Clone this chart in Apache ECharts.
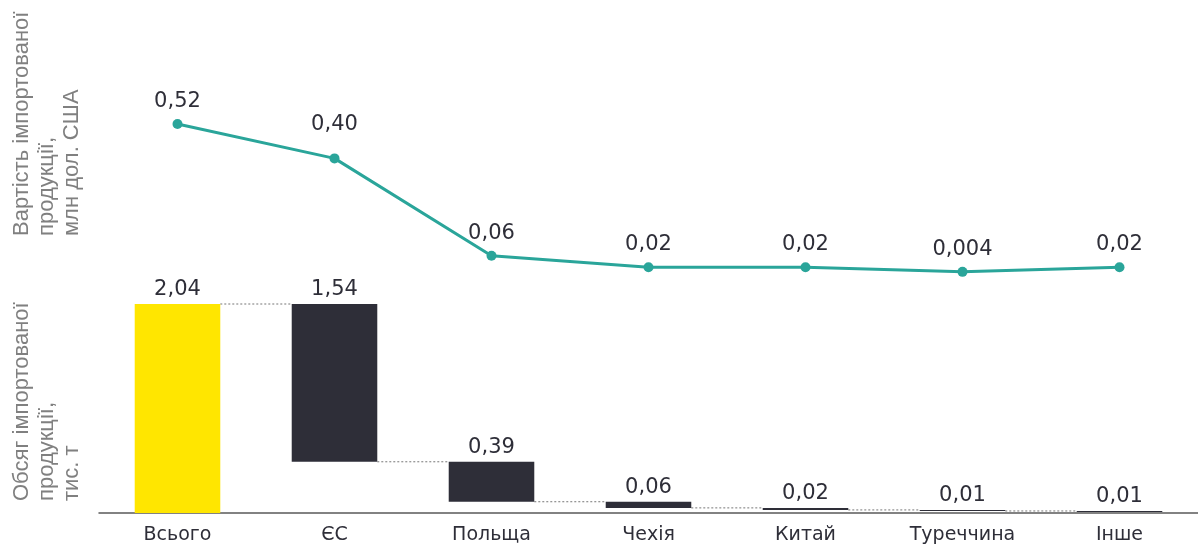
<!DOCTYPE html>
<html>
<head>
<meta charset="utf-8">
<script src="https://cdn.jsdelivr.net/npm/echarts@6/dist/echarts.min.js"></script>
<style>
  html, body { margin: 0; padding: 0; background: #fff; }
  #main { width: 1198px; height: 546px; }
</style>
</head>
<body>
<div id="main"></div>
<script>
  // категорії
  var categories = ['Всього', 'ЄС', 'Польща', 'Чехія', 'Китай', 'Туреччина', 'Інше'];
  // обсяг, тис. т
  var volumes = [2.04, 1.54, 0.39, 0.06, 0.02, 0.01, 0.01];
  // вартість, млн дол. США
  var values = [0.52, 0.40, 0.06, 0.02, 0.02, 0.004, 0.02];

  var topTitle = ['Вартість імпортованої', 'продукції,', 'млн дол. США'];
  var bottomTitle = ['Обсяг імпортованої', 'продукції,', 'тис. т'];

  // невидима основа для водоспаду
  var bases = [0];
  var rest = volumes[0];
  for (var i = 1; i < volumes.length; i++) {
    rest = rest - volumes[i];
    bases.push(Math.max(0, +rest.toFixed(3)));
  }
  var tops = volumes.map(function (v, i) { return i === 0 ? v : bases[i] + v; });

  function fmt(v) {
    return (v < 0.01 ? v.toFixed(3) : v.toFixed(2)).replace('.', ',');
  }

  var gridLeft = 99, gridW = 1106;
  var font = 'DejaVu Sans';

  var option = {
    animation: false,
    grid: [
      { left: gridLeft, width: gridW, top: 124, height: 149 },
      { left: gridLeft, width: gridW, top: 304, height: 209 }
    ],
    xAxis: [
      { type: 'category', gridIndex: 0, data: categories, show: false },
      {
        type: 'category', gridIndex: 1, data: categories,
        axisLine: { lineStyle: { color: '#5a5a5a', width: 1.5 } },
        axisTick: { show: false },
        axisLabel: { color: '#2e2e38', fontSize: 19, fontFamily: font, margin: 13 }
      }
    ],
    yAxis: [
      { type: 'value', gridIndex: 0, min: 0, max: 0.52, show: false },
      { type: 'value', gridIndex: 1, min: 0, max: 2.04, show: false }
    ],
    graphic: [
      {
        type: 'text', x: 9, y: 236, rotation: Math.PI / 2,
        style: { text: topTitle.join('\n'), fill: '#808080', font: '22px "Liberation Sans"',
                 lineHeight: 25, align: 'left', verticalAlign: 'top' }
      },
      {
        type: 'text', x: 9, y: 501, rotation: Math.PI / 2,
        style: { text: bottomTitle.join('\n'), fill: '#808080', font: '22px "Liberation Sans"',
                 lineHeight: 25, align: 'left', verticalAlign: 'top' }
      }
    ],
    series: [
      {
        type: 'line', xAxisIndex: 0, yAxisIndex: 0,
        data: values.map(function (v, i) {
          return i === 1 ? { value: v, label: { distance: 18 } } : v;
        }),
        symbol: 'circle', symbolSize: 10,
        lineStyle: { color: '#2aa59a', width: 3 },
        itemStyle: { color: '#2aa59a' },
        label: {
          show: true, position: 'top', distance: 7,
          color: '#2e2e38', fontSize: 21, fontFamily: font,
          formatter: function (p) { return fmt(p.value); }
        }
      },
      {
        type: 'custom', xAxisIndex: 1, yAxisIndex: 1, z: 1,
        data: categories.slice(1).map(function (c, i) { return [i, tops[i + 1]]; }),
        renderItem: function (params, api) {
          var i = api.value(0);
          var bw = api.size([1, 0])[0] * 0.545;
          var a = api.coord([i, api.value(1)]);
          var b = api.coord([i + 1, api.value(1)]);
          return {
            type: 'line',
            shape: { x1: a[0] + bw / 2, y1: a[1], x2: b[0] - bw / 2, y2: b[1] },
            style: { stroke: '#777', lineWidth: 1, lineDash: [2, 2] }
          };
        }
      },
      {
        type: 'bar', xAxisIndex: 1, yAxisIndex: 1, stack: 'w',
        barWidth: '54.5%',
        data: bases,
        itemStyle: { color: 'rgba(0,0,0,0)' },
        silent: true
      },
      {
        type: 'bar', xAxisIndex: 1, yAxisIndex: 1, stack: 'w',
        barWidth: '54.5%',
        data: volumes.map(function (v, i) {
          return { value: v, itemStyle: { color: i === 0 ? '#ffe600' : '#2e2e38' } };
        }),
        label: {
          show: true, position: 'top', distance: 4,
          color: '#2e2e38', fontSize: 21, fontFamily: font,
          formatter: function (p) { return fmt(p.value); }
        }
      }
    ]
  };

  var myChart = echarts.init(document.getElementById('main'));
  myChart.setOption(option);
</script>
</body>
</html>
